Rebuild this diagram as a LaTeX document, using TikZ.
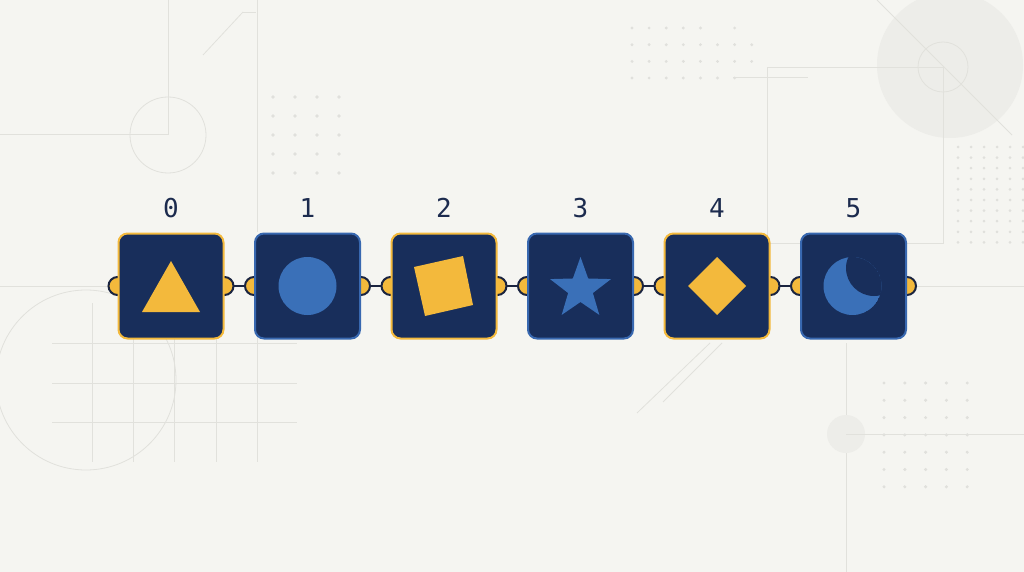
\documentclass[tikz,border=0pt]{standalone}
\usepackage{fontspec}
\newfontfamily\labfont{DejaVu Sans Mono}
\pgfdeclarelayer{back}
\pgfdeclarelayer{mid}
\pgfsetlayers{back,mid,main}
\definecolor{bgc}{HTML}{F5F5F1}
\definecolor{navy}{HTML}{182E5B}
\definecolor{yel}{HTML}{F3B93C}
\definecolor{bshape}{HTML}{3A70B8}
\definecolor{bbrd}{HTML}{3868B0}
\definecolor{dark}{HTML}{1A2440}
\definecolor{labc}{HTML}{1C2B4E}
\definecolor{deco}{HTML}{E1E1DC}
\definecolor{decofill}{HTML}{EDEDE9}
\definecolor{dotc}{HTML}{E0E0DC}
\tikzset{
  box/.style={rectangle, rounded corners=9pt, minimum size=105pt, inner sep=0pt, fill=navy, line width=2pt},
  ybox/.style={box, draw=yel},
  bbox/.style={box, draw=bbrd},
  tab/.style={circle, minimum size=18pt, inner sep=0pt, fill=yel, draw=dark, line width=2pt},
  conn/.style={draw=dark, line width=2pt},
  lab/.style={text=labc, font=\labfont\fontsize{26}{26}\selectfont, inner sep=0pt},
  decoline/.style={draw=deco, line width=0.8pt},
}
\begin{document}
\begin{tikzpicture}[x=1pt,y=-1pt]
\useasboundingbox (0,0) rectangle (1024,572);
\begin{pgfonlayer}{back}
\fill[bgc] (0,0) rectangle (1024,572);
% top-right large soft circle
\fill[decofill] (950,65) circle (73pt);
\draw[decoline] (943,67) circle (25pt);
\draw[decoline] (877,0) -- (1012,135);
\draw[decoline] (767,67) rectangle (943,243);
\draw[decoline] (733,77) -- (808,77);
% top-left
\draw[decoline] (168,0) -- (168,134) -- (0,134);
\draw[decoline] (168,135) circle (38pt);
\draw[decoline] (257,0) -- (257,232);
\draw[decoline] (243,12) -- (203,55);
\draw[decoline] (243,12) -- (256,12);
% horizontal guide through chain
\draw[decoline] (0,286) -- (1024,286);
% bottom-left
\draw[decoline] (86,380) circle (90pt);
\foreach \yy in {343,383,422} \draw[decoline] (52,\yy) -- (297,\yy);
\foreach \xx in {92,133,174,216,257} \draw[decoline] (\xx,303) -- (\xx,462);
% bottom-middle diagonals
\draw[decoline] (710,343) -- (637,413);
\draw[decoline] (722,343) -- (663,402);
% bottom-right
\draw[decoline] (846,343) -- (846,572);
\fill[decofill] (846,434) circle (19pt);
\draw[decoline] (846,434) -- (1024,434);
% dot grids
\foreach \i in {0,...,3} \foreach \j in {0,...,4} \fill[dotc] (273+22*\i,97+19*\j) circle (1.8pt);
\foreach \i in {0,...,7} \foreach \j in {1,2} \fill[dotc] (632+17.1*\i,28+16.7*\j) circle (1.6pt);
\foreach \i in {0,...,4,6} \fill[dotc] (632+17.1*\i,28) circle (1.6pt);
\foreach \i in {0,...,6} \fill[dotc] (632+17.1*\i,78) circle (1.6pt);
\foreach \i in {0,...,5} \foreach \j in {0,...,9} \fill[dotc] (958+13*\i,147+10.6*\j) circle (1.5pt);
\foreach \i in {0,...,4} \foreach \j in {0,...,6} \fill[dotc] (884+20.8*\i,383+17.3*\j) circle (1.7pt);
\end{pgfonlayer}

% boxes
\node[ybox] (b0) at (171,286) {};
\node[bbox] (b1) at (307.5,286) {};
\node[ybox] (b2) at (444,286) {};
\node[bbox] (b3) at (580.5,286) {};
\node[ybox] (b4) at (717,286) {};
\node[bbox] (b5) at (853.5,286) {};

% connectors and tabs behind boxes
\begin{pgfonlayer}{mid}
\foreach \a/\b in {b0/b1,b1/b2,b2/b3,b3/b4,b4/b5} \draw[conn] (\a.east) -- (\b.west);
\foreach \n in {b0,b1,b2,b3,b4,b5} {
  \node[tab] (\n l) at (\n.west) {};
  \node[tab] (\n r) at (\n.east) {};
}
\end{pgfonlayer}

% shapes
\fill[yel] (171,261) -- (200,312) -- (142,312) -- cycle;
\fill[bshape] (b1.center) circle (29pt);
\fill[yel] (414,267) -- (463,256) -- (473,305) -- (425,316) -- cycle;
\coordinate (sc) at (580.5,289);
\fill[bshape] (sc) +(-90:32) -- +(-54:13) -- +(-18:32) -- +(18:13) -- +(54:32)
  -- +(90:13) -- +(126:32) -- +(162:13) -- +(198:32) -- +(234:13) -- cycle;
\fill[yel] (717,257) -- (746,286) -- (717,315) -- (688,286) -- cycle;
\begin{scope}
\clip (852.5,286) circle (29pt);
\fill[bshape] (852.5,286) circle (29pt);
\fill[navy] (874,268) circle (28pt);
\end{scope}

% labels
\node[lab] (l0) at (171,208) {0};
\node[lab] (l1) at (307.5,208) {1};
\node[lab] (l2) at (444,208) {2};
\node[lab] (l3) at (580.5,208) {3};
\node[lab] (l4) at (717,208) {4};
\node[lab] (l5) at (853.5,208) {5};
\end{tikzpicture}
\end{document}
